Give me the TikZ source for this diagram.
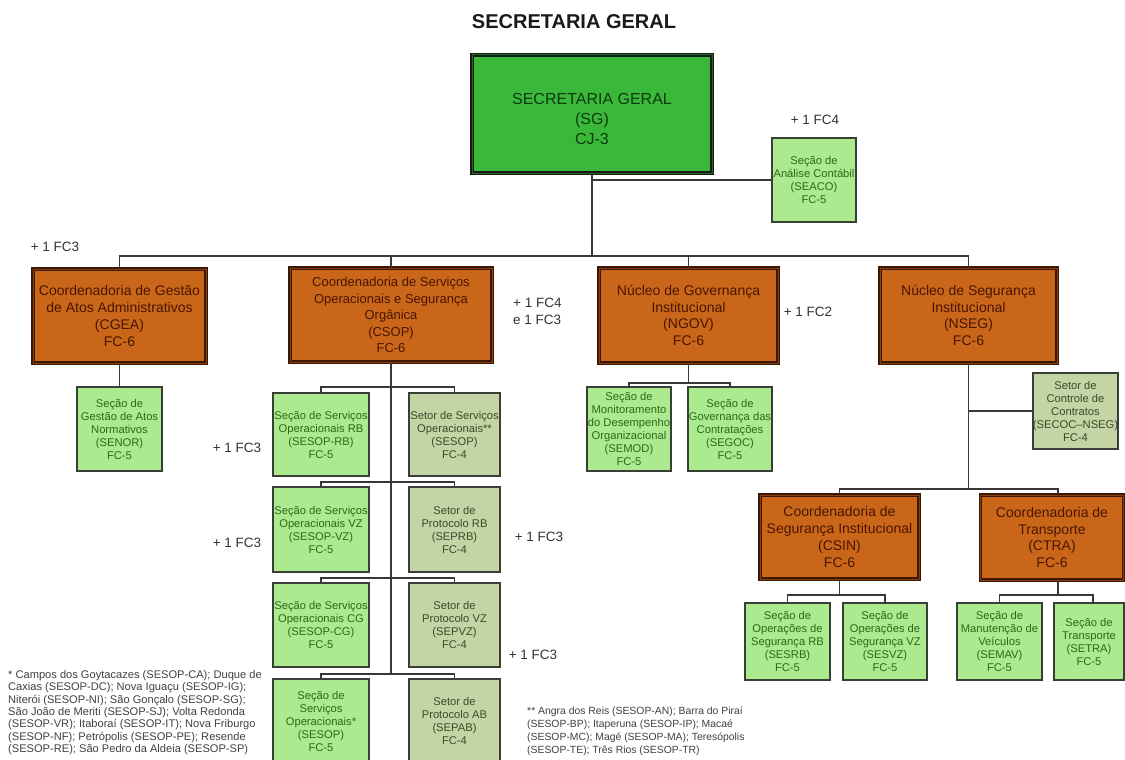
\documentclass[tikz,border=0pt]{standalone}
\usepackage{fontspec}
\setmainfont{Liberation Sans}
\definecolor{sggreen}{HTML}{3AB83A}
\definecolor{sgedge}{HTML}{1E6A1E}
\definecolor{sgtext}{HTML}{0F3A0F}
\definecolor{orgfill}{HTML}{C9661A}
\definecolor{orgedge}{HTML}{3A1805}
\definecolor{orgmid}{HTML}{8A3E0C}
\definecolor{orgtext}{HTML}{4A1600}
\definecolor{secfill}{HTML}{ABEA8E}
\definecolor{sectext}{HTML}{2B6A1A}
\definecolor{setfill}{HTML}{C4D4A4}
\definecolor{settext}{HTML}{3C4A2C}
\definecolor{boxedge}{HTML}{3A3F36}
\definecolor{linec}{HTML}{383838}
\begin{document}
\begin{tikzpicture}[x=1pt,y=-1pt,
  sz/.style 2 args={minimum width=#1, minimum height=#2},
  conn/.style={draw=linec, line width=1.4pt},
  trunk/.style={draw=linec, line width=2.6pt},
  sgbox/.style={rectangle, inner sep=0pt, fill=sggreen,
    draw=black!90, line width=1.3pt, double=sgedge, double distance=1pt},
  orgbox/.style={rectangle, inner sep=0pt, align=center, fill=orgfill,
    draw=orgedge, line width=1.3pt, double=orgmid, double distance=1pt,
    text=orgtext, font=\fontsize{14}{16.8}\selectfont},
  secbox/.style={rectangle, inner sep=0pt, align=center, fill=secfill,
    draw=boxedge, line width=1.4pt, text=sectext,
    font=\fontsize{11.2}{13}\selectfont},
  setbox/.style={secbox, fill=setfill, text=settext},
  extra/.style={inner sep=0pt, align=left, text=black!80,
    font=\fontsize{13.5}{17}\selectfont},
  note/.style={inner sep=0pt, align=left, anchor=north west, text=black!75,
    font=\fontsize{10.4}{13}\selectfont},
]
\useasboundingbox (0,0) rectangle (1125,760);
\clip (0,0) rectangle (1125,760);
\fill[white] (0,0) rectangle (1125,760);

% title
\node[inner sep=0pt, font=\fontsize{20}{24}\selectfont\bfseries, text=black!90] (title) at (574,22) {SECRETARIA GERAL};

% top level
\node[sgbox, sz={240}{118}] (sg) at (592,114) {};
\node[inner sep=0pt, align=center, text=sgtext, font=\fontsize{16}{20}\selectfont] (sglabel) at (592,119) {SECRETARIA GERAL\\(SG)\\CJ-3};
\node[secbox, sz={84}{84}] (seaco) at (814,180) {Seção de\\Análise Contábil\\(SEACO)\\FC-5};
\node[extra] (xseaco) at (815,120) {+ 1 FC4};

% coordination level
\node[orgbox, sz={173}{94}] (cgea) at (119.5,316) {Coordenadoria de Gestão\\de Atos Administrativos\\(CGEA)\\FC-6};
\node[orgbox, sz={202}{94}, font=\fontsize{13}{16.5}\selectfont] (csop) at (391,315) {Coordenadoria de Serviços\\Operacionais e Segurança\\Orgânica\\(CSOP)\\FC-6};
\node[orgbox, sz={179}{95}] (ngov) at (688.5,315.5) {Núcleo de Governança\\Institucional\\(NGOV)\\FC-6};
\node[orgbox, sz={177}{95}] (nseg) at (968.5,315.5) {Núcleo de Segurança\\Institucional\\(NSEG)\\FC-6};
\node[extra] (xcgea) at (55,247) {+ 1 FC3};
\node[extra, anchor=west] (xcsop) at (513,311.5) {+ 1 FC4\\e 1 FC3};
\node[extra] (xngov) at (808,312) {+ 1 FC2};

% CGEA
\node[secbox, sz={85}{84}] (senor) at (119.5,429) {Seção de\\Gestão de Atos\\Normativos\\(SENOR)\\FC-5};

% CSOP columns
\node[secbox, sz={96}{83}] (sesoprb) at (321,434.5) {Seção de Serviços\\Operacionais RB\\(SESOP-RB)\\FC-5};
\node[setbox, sz={91}{83}] (setsesop) at (454.5,434.5) {Setor de Serviços\\Operacionais**\\(SESOP)\\FC-4};
\node[secbox, sz={96}{85}] (sesopvz) at (321,529.5) {Seção de Serviços\\Operacionais VZ\\(SESOP-VZ)\\FC-5};
\node[setbox, sz={91}{85}] (seprb) at (454.5,529.5) {Setor de\\Protocolo RB\\(SEPRB)\\FC-4};
\node[secbox, sz={96}{84}] (sesopcg) at (321,625) {Seção de Serviços\\Operacionais CG\\(SESOP-CG)\\FC-5};
\node[setbox, sz={91}{84}] (sepvz) at (454.5,625) {Setor de\\Protocolo VZ\\(SEPVZ)\\FC-4};
\node[secbox, sz={96}{84}] (sesop) at (321,721) {Seção de\\Serviços\\Operacionais*\\(SESOP)\\FC-5};
\node[setbox, sz={91}{84}] (sepab) at (454.5,721) {Setor de\\Protocolo AB\\(SEPAB)\\FC-4};
\node[extra] (xrb) at (237,448) {+ 1 FC3};
\node[extra] (xvz) at (237,543) {+ 1 FC3};
\node[extra] (xseprb) at (539,537) {+ 1 FC3};
\node[extra] (xsepvz) at (533,655) {+ 1 FC3};

% NGOV
\node[secbox, sz={84}{84}] (semod) at (629,429) {Seção de\\Monitoramento\\do Desempenho\\Organizacional\\(SEMOD)\\FC-5};
\node[secbox, sz={84}{84}] (segoc) at (730,429) {Seção de\\Governança das\\Contratações\\(SEGOC)\\FC-5};

% NSEG
\node[setbox, sz={83}{76}] (secoc) at (1075.5,411) {Setor de\\Controle de\\Contratos\\(SECOC–NSEG)\\FC-4};
\node[orgbox, sz={159}{84}] (csin) at (839.5,537) {Coordenadoria de\\Segurança Institucional\\(CSIN)\\FC-6};
\node[orgbox, sz={143}{85}] (ctra) at (1052,537.5) {Coordenadoria de\\Transporte\\(CTRA)\\FC-6};
\node[secbox, sz={85}{77}] (sesrb) at (787.5,641.5) {Seção de\\Operações de\\Segurança RB\\(SESRB)\\FC-5};
\node[secbox, sz={84}{77}] (sesvz) at (885,641.5) {Seção de\\Operações de\\Segurança VZ\\(SESVZ)\\FC-5};
\node[secbox, sz={85}{77}] (semav) at (999.5,641.5) {Seção de\\Manutenção de\\Veículos\\(SEMAV)\\FC-5};
\node[secbox, sz={70}{77}] (setra) at (1089,641.5) {Seção de\\Transporte\\(SETRA)\\FC-5};

% footnotes
\node[note, font=\fontsize{11.1}{12.4}\selectfont] (note1) at (8,670) {* Campos dos Goytacazes (SESOP-CA); Duque de\\Caxias (SESOP-DC); Nova Iguaçu (SESOP-IG);\\Niterói (SESOP-NI); São Gonçalo (SESOP-SG);\\São João de Meriti (SESOP-SJ); Volta Redonda\\(SESOP-VR); Itaboraí (SESOP-IT); Nova Friburgo\\(SESOP-NF); Petrópolis (SESOP-PE); Resende\\(SESOP-RE); São Pedro da Aldeia (SESOP-SP)};
\node[note] (note2) at (527,707) {** Angra dos Reis (SESOP-AN); Barra do Piraí\\(SESOP-BP); Itaperuna (SESOP-IP); Macaé\\(SESOP-MC); Magé (SESOP-MA); Teresópolis\\(SESOP-TE); Três Rios (SESOP-TR)};

% junction points
\coordinate (busA) at (592,256);
\coordinate (r1) at (391,387);
\coordinate (r2) at (391,482);
\coordinate (r3) at (391,578);
\coordinate (r4) at (391,674);
\coordinate (nb) at (688.5,383);
\coordinate (nsb) at (968.5,489);
\coordinate (csb) at (839.5,595);
\coordinate (ctb) at (1058,595);

% connectors
\draw[trunk] (sg.south) -- (busA);
\draw[conn] (seaco.west -| busA) -- (seaco.west);
\draw[conn] (cgea.north) |- (busA) -| (nseg.north);
\draw[conn] (csop.north) -- (csop.north |- busA);
\draw[conn] (ngov.north) -- (ngov.north |- busA);
\draw[conn] (cgea.south) -- (senor.north);

\draw[conn] (csop.south) -- (r4);
\draw[conn] (sesoprb.north) |- (r1) -| (setsesop.north);
\draw[conn] (sesopvz.north) |- (r2) -| (seprb.north);
\draw[conn] (sesopcg.north) |- (r3) -| (sepvz.north);
\draw[conn] (sesop.north) |- (r4) -| (sepab.north);

\draw[conn] (ngov.south) -- (nb);
\draw[conn] (semod.north) |- (nb) -| (segoc.north);

\draw[conn] (nseg.south) -- (nsb);
\draw[conn] (secoc.west -| nsb) -- (secoc.west);
\draw[conn] (csin.north) |- (nsb) -| ([xshift=6pt]ctra.north);
\draw[conn] (csin.south) -- (csb);
\draw[conn] (sesrb.north) |- (csb) -| (sesvz.north);
\draw[conn] ([xshift=6pt]ctra.south) -- (ctb);
\draw[conn] (semav.north) |- (ctb) -| ([xshift=4pt]setra.north);
\end{tikzpicture}
\end{document}
